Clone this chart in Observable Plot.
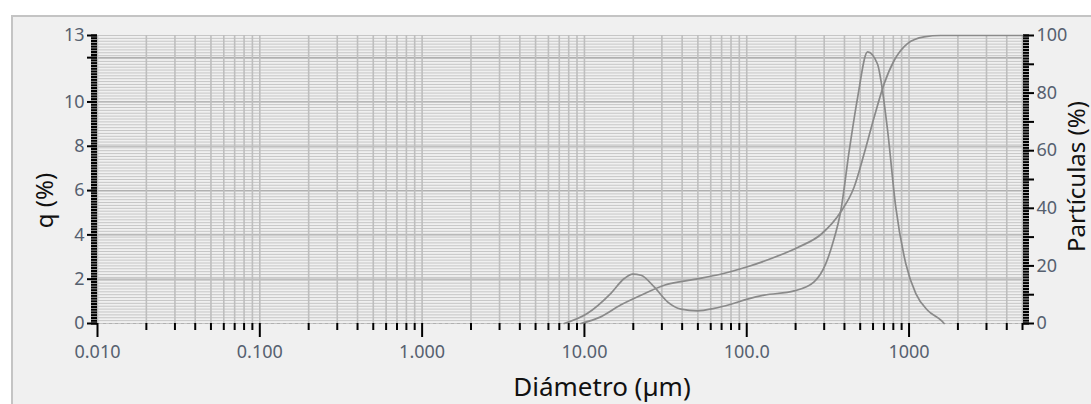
<!DOCTYPE html>
<html>
<head>
<meta charset="utf-8">
<script src="https://cdn.jsdelivr.net/npm/d3@7"></script>
<script src="https://cdn.jsdelivr.net/npm/@observablehq/plot@0.6"></script>
<style>
  html, body { margin: 0; padding: 0; background: #ffffff; }
  #wrap { position: relative; width: 1091px; height: 404px; overflow: hidden; }
  #panel { position: absolute; left: 11px; top: 15px; right: 0; bottom: 0;
           background: #f0f0f0; border-left: 2px solid #c4c4c4; border-top: 2px solid #c4c4c4; }
  #chart { position: absolute; left: 0; top: 0; }
</style>
</head>
<body>
<div id="wrap"><div id="panel"></div><div id="chart"></div></div>
<script>
// ---- data ----
const freqX = [7.5, 10.4, 14.5, 17.6, 19.8, 22.3, 26.9, 32.5, 39.3, 49.8, 63, 79.8, 101, 128, 196, 260, 307, 338, 380, 428, 482, 555, 640, 670, 738, 828, 955, 1101, 1300, 1570, 1645];
const freqY = [0, 0.45, 1.35, 2.03, 2.23, 2.18, 1.65, 0.98, 0.65, 0.57, 0.68, 0.87, 1.1, 1.28, 1.47, 1.88, 2.7, 3.6, 5.1, 7.8, 10.2, 12.26, 11.7, 11.0, 8.7, 5.26, 2.7, 1.35, 0.6, 0.15, 0];
const cumX = [9.5, 12.6, 16.7, 22.3, 31, 47.4, 69, 101, 147, 206, 286, 380, 459, 529, 610, 703, 811, 978, 1238, 1570, 5000];
const cumY = [0, 2.3, 6.4, 9.8, 13.3, 15.3, 17.1, 19.7, 22.9, 26.4, 30.9, 38.8, 47.4, 59, 71.7, 83.3, 91.4, 97.2, 99.5, 100, 100];

const xTickValues = [0.01, 0.1, 1, 10, 100, 1000];
const xTickLabels = ["0.010", "0.100", "1.000", "10.00", "100.0", "1000"];
const xEndValue = 5000, xEndLabel = "5000";
const leftTicks = [0, 2, 4, 6, 8, 10, 13];
const rightTicks = [0, 20, 40, 60, 80, 100];

const xLabel = "Diámetro (µm)";
const yLeftLabel = "q (%)";
const yRightLabel = "Partículas (%)";

// ---- derived tick sets ----
const decades = [0.01, 0.1, 1, 10, 100, 1000];
const xMinor = [];
decades.forEach(d => { for (let m = 2; m <= 9; m++) { const v = +(m * d).toPrecision(3); if (v <= 5000) xMinor.push(v); } });
const xGrid = decades.concat(xMinor);
const k = 13 / 100; // right-axis % -> left-axis units
const rightMinor = d3.range(0, 101, 1).map(v => v * k);
const rightMid = d3.range(10, 100, 20).map(v => v * k);
const rightMajor = rightTicks.map(v => v * k);
const leftMinor = d3.range(0, 13.001, 0.125);
const leftMajorGrid = [2, 4, 6, 8, 10, 12];

const tickColor = "#000";
const textColor = "#56606f";

const chart = Plot.plot({
  width: 1091, height: 404,
  marginLeft: 97, marginRight: 69, marginTop: 35, marginBottom: 81,
  x: {type: "log", domain: [0.01, 5000], axis: null},
  y: {domain: [0, 13], axis: null},
  style: {background: "transparent", fontFamily: "'Noto Sans', sans-serif", fontSize: "18px"},
  marks: [
    Plot.gridY(rightMinor, {stroke: "#c6c6c6", strokeOpacity: 1, strokeWidth: 1}),
    Plot.gridY(leftMajorGrid, {stroke: "#b0b0b0", strokeOpacity: 1, strokeWidth: 1.2}),
    Plot.gridX(xGrid, {stroke: "#bebebe", strokeOpacity: 1, strokeWidth: 1.6}),
    Plot.ruleY([0], {stroke: "#b0b0b0", strokeDasharray: "3,3"}),
    // bottom axis
    Plot.axisX(xMinor, {tickSize: 7, text: null, stroke: tickColor, strokeWidth: 2}),
    Plot.axisX(xTickValues, {tickSize: 14, tickPadding: 8, stroke: tickColor, strokeWidth: 2,
      color: textColor, tickFormat: d => xTickLabels[xTickValues.indexOf(d)]}),
    Plot.axisX([xEndValue], {tickSize: 0, tickPadding: 22, color: textColor, stroke: "none",
      tickFormat: () => xEndLabel}),
    // left axis
    Plot.axisY(leftMinor, {anchor: "left", tickSize: 6, text: null, stroke: tickColor, strokeWidth: 2.2}),
    Plot.axisY([12], {anchor: "left", tickSize: 10, text: null, stroke: tickColor, strokeWidth: 2}),
    Plot.axisY(leftTicks, {anchor: "left", tickSize: 10, tickPadding: 3, stroke: tickColor, strokeWidth: 2,
      color: textColor, tickFormat: d => String(d)}),
    // right axis
    Plot.axisY(rightMinor, {anchor: "right", tickSize: 6, text: null, stroke: tickColor, strokeWidth: 2.2}),
    Plot.axisY(rightMid, {anchor: "right", tickSize: 11, text: null, stroke: tickColor, strokeWidth: 2}),
    Plot.axisY(rightMajor, {anchor: "right", tickSize: 11, tickPadding: 3, stroke: tickColor, strokeWidth: 2,
      color: textColor, tickFormat: d => String(Math.round(d / k))}),
    // curves
    Plot.line(freqX, {x: freqX, y: freqY, stroke: "#8a8a8a", strokeWidth: 1.7, curve: "monotone-x"}),
    Plot.line(cumX, {x: cumX, y: cumY.map(v => v * k), stroke: "#8a8a8a", strokeWidth: 1.7, curve: "monotone-x"}),
    // axis titles
    Plot.text([xLabel], {frameAnchor: "bottom", text: d => d, dx: 42, dy: 64, fontSize: 26, fill: "#111", lineAnchor: "middle"}),
    Plot.text([yLeftLabel], {frameAnchor: "left", text: d => d, rotate: -90, textAnchor: "middle", dx: -52, dy: 21, fontSize: 24, fill: "#111"}),
    Plot.text([yRightLabel], {frameAnchor: "right", text: d => d, rotate: -90, textAnchor: "middle", dx: 55, dy: -3, fontSize: 24, fill: "#111"})
  ]
});
document.getElementById("chart").appendChild(chart);
</script>
</body>
</html>
